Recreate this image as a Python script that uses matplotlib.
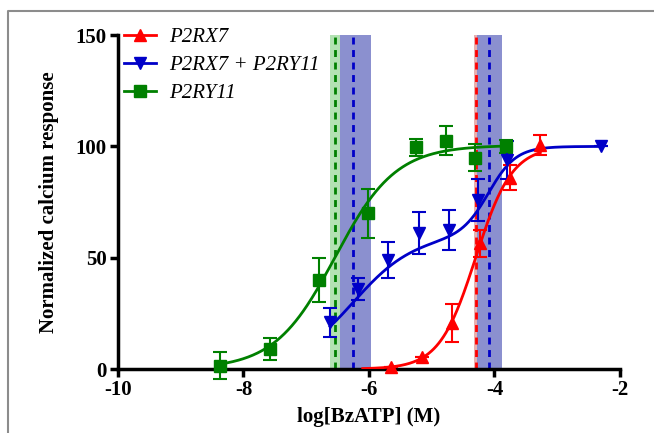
import numpy as np
import matplotlib
matplotlib.use("Agg")
import matplotlib.pyplot as plt
from matplotlib.lines import Line2D

# --------------------------------------------------
# Data
# --------------------------------------------------
p2ry11_x = [-8.37, -7.58, -6.80, -6.02, -5.25, -4.78, -4.31, -3.82]
p2ry11_y = [1.5, 9.0, 40.0, 70.0, 99.5, 102.5, 95.0, 100.0]
p2ry11_err = [6.0, 5.0, 10.0, 11.0, 4.0, 6.5, 6.0, 3.0]

combo_x = [-6.62, -6.17, -5.69, -5.21, -4.72, -4.26, -3.80, -2.30]
combo_y = [21.0, 36.0, 49.0, 61.0, 62.5, 76.0, 94.0, 100.0]
combo_err = [6.5, 5.0, 8.0, 9.5, 9.0, 9.5, 8.5, 0.0]

p2rx7_x = [-5.65, -5.15, -4.68, -4.23, -3.75, -3.27]
p2rx7_y = [1.0, 5.5, 20.5, 56.5, 86.0, 100.5]
p2rx7_err = [0.0, 0.0, 8.5, 6.0, 5.5, 4.5]

# fitted curve parameters (logEC50, hill, top) and curve ranges
p2ry11_fit = (-6.54, 0.9, 100.5)
p2rx7_fit = (-4.30, 1.5, 100.0)
combo_fit = (-6.25, 0.9, -4.09, 2.0, 0.60, 100.0)
p2ry11_range = (-8.37, -3.82)
p2rx7_range = (-6.10, -3.27)
combo_range = (-6.62, -2.30)

# EC50 lines and their confidence bands
ec50_lines = [(-6.54, "#008000"), (-6.25, "#0000c8"), (-4.30, "#ff0000"), (-4.09, "#0000c8")]
bands = [(-6.62, -6.46, "#b3e2b3"), (-6.46, -5.97, "#8b90cf"),
         (-4.33, -4.28, "#e8b0b0"), (-4.28, -3.88, "#8b90cf")]

RED = "#ff0000"
BLUE = "#0000c8"
GREEN = "#008000"


def hill(x, logec, h, top):
    return top / (1 + 10 ** ((logec - x) * h))


def biphasic(x, ec1, h1, ec2, h2, frac, top):
    return top * (frac / (1 + 10 ** ((ec1 - x) * h1)) + (1 - frac) / (1 + 10 ** ((ec2 - x) * h2)))


plt.rcParams["font.family"] = ["Liberation Serif", "DejaVu Serif"]
plt.rcParams["axes.unicode_minus"] = False

fig = plt.figure(figsize=(6.54, 4.33), dpi=100)
ax = fig.add_axes([0.1804, 0.1478, 0.948 - 0.1804, 0.919 - 0.1478])

# outer gray frame
fig.add_artist(Line2D([8 / 654, 8 / 654, 1], [0, 1 - 11 / 433, 1 - 11 / 433],
                      transform=fig.transFigure, color="#8c8c8c", lw=1.5))

for x0, x1, c in bands:
    ax.axvspan(x0, x1, ymin=0, ymax=1, color=c, lw=0, zorder=1)
for xv, c in ec50_lines:
    ax.plot([xv, xv], [0, 150], ls=(0, (2.5, 2)), color=c, lw=2, zorder=2)

xs = np.linspace(*p2ry11_range, 300)
ax.plot(xs, hill(xs, *p2ry11_fit), color=GREEN, lw=2, zorder=3)
xs = np.linspace(*combo_range, 300)
ax.plot(xs, biphasic(xs, *combo_fit), color=BLUE, lw=2, zorder=3)
xs = np.linspace(*p2rx7_range, 300)
ax.plot(xs, hill(xs, *p2rx7_fit), color=RED, lw=2, zorder=3)

ax.errorbar(p2ry11_x, p2ry11_y, yerr=p2ry11_err, fmt="s", color=GREEN, ms=8,
            capsize=5, elinewidth=1.5, capthick=1.5, zorder=4, clip_on=False)
ax.errorbar(combo_x, combo_y, yerr=combo_err, fmt="v", color=BLUE, ms=9,
            capsize=5, elinewidth=1.5, capthick=1.5, zorder=4, clip_on=False)
ax.errorbar(p2rx7_x, p2rx7_y, yerr=p2rx7_err, fmt="^", color=RED, ms=9,
            capsize=5, elinewidth=1.5, capthick=1.5, zorder=4, clip_on=False)

ax.set_xlim(-10, -2)
ax.set_ylim(0, 150)
ax.set_xticks([-10, -8, -6, -4, -2])
ax.set_yticks([0, 50, 100, 150])
for s in ["top", "right"]:
    ax.spines[s].set_visible(False)
for s in ["left", "bottom"]:
    ax.spines[s].set_linewidth(2.5)
ax.tick_params(direction="out", length=6, width=2.5, labelsize=15, pad=2)
for lab in ax.get_xticklabels() + ax.get_yticklabels():
    lab.set_fontweight("bold")

ax.set_xlabel("log[BzATP] (M)", fontsize=15, fontweight="bold", labelpad=5)
ax.set_ylabel("Normalized calcium response", fontsize=15, fontweight="bold", labelpad=12)

handles = [
    Line2D([], [], color=RED, lw=2, marker="^", ms=9),
    Line2D([], [], color=BLUE, lw=2, marker="v", ms=9),
    Line2D([], [], color=GREEN, lw=2, marker="s", ms=8),
]
labels = ["P2RX7", "P2RX7 + P2RY11", "P2RY11"]
leg = ax.legend(handles, labels, loc="upper left", bbox_to_anchor=(-0.012, 1.06),
                frameon=False, prop={"size": 15, "style": "italic"},
                handlelength=1.5, handletextpad=0.65, labelspacing=0.4,
                borderaxespad=0.2)

fig.savefig("out.png", dpi=100)
